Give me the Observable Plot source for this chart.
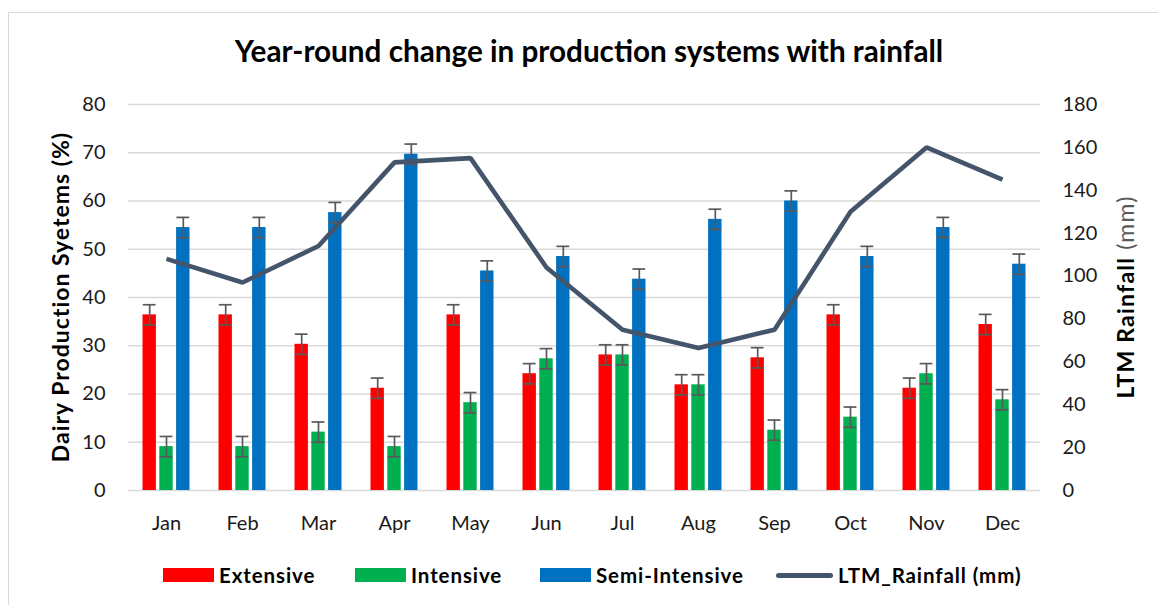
<!DOCTYPE html>
<html><head><meta charset="utf-8">
<script src="https://cdn.jsdelivr.net/npm/d3@7"></script>
<script src="https://cdn.jsdelivr.net/npm/@observablehq/plot@0.6"></script>
<style>
body{margin:0;background:#fff;font-family:Lato,"Open Sans",sans-serif;color:#000;}
#wrap{position:relative;width:1158px;height:605px;overflow:hidden;background:#fff;}
#frame{position:absolute;left:8px;top:12px;width:1200px;height:700px;border:1px solid #d9d9d9;box-sizing:border-box;}
#title{position:absolute;left:0;width:1178px;top:33px;text-align:center;font-weight:700;font-size:29.7px;line-height:1.2;white-space:nowrap;}
.ytitle{position:absolute;white-space:nowrap;transform:translate(-50%,-50%) rotate(-90deg);line-height:1;}
#chart{position:absolute;left:0;top:80px;}
#legend{position:absolute;left:0;top:563px;width:1158px;height:24px;font-weight:700;font-size:20.5px;letter-spacing:0.9px;}
.item{position:absolute;top:0;height:24px;display:flex;align-items:center;white-space:nowrap;}
.sw{width:51px;height:14px;margin-right:5px;}
.ln{width:57px;height:5px;border-radius:3px;margin-right:5px;}
</style></head>
<body>
<div id="wrap">
  <div id="frame"></div>
  <div id="title">Year-round change in production systems with rainfall</div>
  <div class="ytitle" style="left:60px;top:297px;font-weight:700;font-size:23px;letter-spacing:1px;">Dairy Production Syetems (%)</div>
  <div class="ytitle" style="left:1125px;top:297px;font-size:23px;letter-spacing:1.2px;"><b>LTM Rainfall</b> <span style="color:#595959">(mm)</span></div>
  <div id="chart"></div>
  <div id="legend"></div>
</div>
<script>
// ---- data ----
const months = ["Jan","Feb","Mar","Apr","May","Jun","Jul","Aug","Sep","Oct","Nov","Dec"];
const extensive     = [36.4,36.4,30.3,21.2,36.4,24.2,28.1,21.9,27.5,36.4,21.2,34.4];
const intensive     = [9.1, 9.1, 12.1,9.1, 18.2,27.3,28.1,21.9,12.5,15.2,24.2,18.8];
const semiIntensive = [54.5,54.5,57.6,69.7,45.5,48.5,43.8,56.2,60.0,48.5,54.5,46.9];
const errExtensive     = [2.1,2.1,2.1,2.1,2.1,2.1,2.1,2.1,2.1,2.1,2.1,2.1];
const errIntensive     = [2.1,2.1,2.1,2.1,2.1,2.1,2.1,2.1,2.1,2.1,2.1,2.1];
const errSemiIntensive = [2.1,2.1,2.1,2.1,2.1,2.1,2.1,2.1,2.1,2.1,2.1,2.1];
const rainfall = [108,97,114,153,155,104,75,66.5,75,130,160,145];
const seriesNames = ["Extensive","Intensive","Semi-Intensive"];
const seriesColors = ["#FF0000","#00B050","#0070C0"];
const lineName = "LTM_Rainfall (mm)";
const lineColor = "#44546A";
const leftTicks = [0,10,20,30,40,50,60,70,80];
const rightTicks = [0,20,40,60,80,100,120,140,160,180];
const leftMax = 80, rightMax = 180;

// ---- layout ----
const W = 1158, H = 460, ML = 128, MR = 118, MT = 24, MB = 50;
const bw = (W - ML - MR) / months.length;
const BAR = 13.4, GAP = 3.4;
const groupW = 3 * BAR + 2 * GAP;
const legendLeft = [163, 355, 540, 776];
const toLeft = v => v * leftMax / rightMax;

const seriesVals = [extensive, intensive, semiIntensive];
const seriesErr = [errExtensive, errIntensive, errSemiIntensive];

const marks = [
  Plot.gridY(leftTicks, {stroke: "#d9d9d9", strokeOpacity: 1, strokeWidth: 1.3})
];
seriesVals.forEach((vals, i) => {
  const rows = months.map((m, j) => ({month: m, v: vals[j], e: seriesErr[i][j]}));
  const insetLeft = (bw - groupW) / 2 + i * (BAR + GAP);
  const insetRight = bw - insetLeft - BAR;
  const dx = insetLeft + BAR / 2 - bw / 2;
  marks.push(Plot.barY(rows, {x: "month", y: "v", fill: seriesColors[i], insetLeft, insetRight}));
  marks.push(Plot.ruleX(rows, {x: "month", y1: d => d.v - d.e, y2: d => d.v + d.e, dx, stroke: "#595959", strokeWidth: 1.7}));
  marks.push(Plot.tickY(rows, {x: "month", y: d => d.v + d.e, insetLeft: insetLeft + 0.3, insetRight: insetRight + 0.3, stroke: "#595959", strokeWidth: 1.7}));
  marks.push(Plot.tickY(rows, {x: "month", y: d => d.v - d.e, insetLeft: insetLeft + 0.3, insetRight: insetRight + 0.3, stroke: "#595959", strokeWidth: 1.7}));
});
marks.push(Plot.lineY(months.map((m, j) => ({month: m, r: rainfall[j]})), {
  x: "month", y: d => toLeft(d.r), stroke: lineColor, strokeWidth: 4.6, strokeLinejoin: "miter", strokeLinecap: "butt"
}));
marks.push(Plot.axisY(leftTicks, {anchor: "left", tickSize: 0, tickPadding: 23, label: null, fontSize: 20, fill: "#1a1a1a"}));
marks.push(Plot.axisY(rightTicks.map(toLeft), {anchor: "right", tickSize: 0, tickPadding: 22, label: null, fontSize: 20, fill: "#1a1a1a", tickFormat: d => Math.round(d * rightMax / leftMax)}));
marks.push(Plot.axisX({tickSize: 0, tickPadding: 25, label: null, fontSize: 20, fill: "#1a1a1a"}));

const chart = Plot.plot({
  width: W, height: H,
  marginLeft: ML, marginRight: MR, marginTop: MT, marginBottom: MB,
  style: {fontFamily: "Lato, 'Open Sans', sans-serif", background: "transparent", overflow: "visible"},
  x: {domain: months, padding: 0},
  y: {domain: [0, leftMax]},
  marks
});
document.getElementById("chart").appendChild(chart);

// ---- legend ----
const legend = document.getElementById("legend");
seriesNames.forEach((n, i) => {
  const it = document.createElement("div"); it.className = "item";
  it.style.left = legendLeft[i] + "px";
  it.innerHTML = `<div class="sw" style="background:${seriesColors[i]}"></div><span>${n}</span>`;
  legend.appendChild(it);
});
const li = document.createElement("div"); li.className = "item";
li.style.left = legendLeft[3] + "px";
li.innerHTML = `<div class="ln" style="background:${lineColor}"></div><span>${lineName}</span>`;
legend.appendChild(li);
</script>
</body></html>
